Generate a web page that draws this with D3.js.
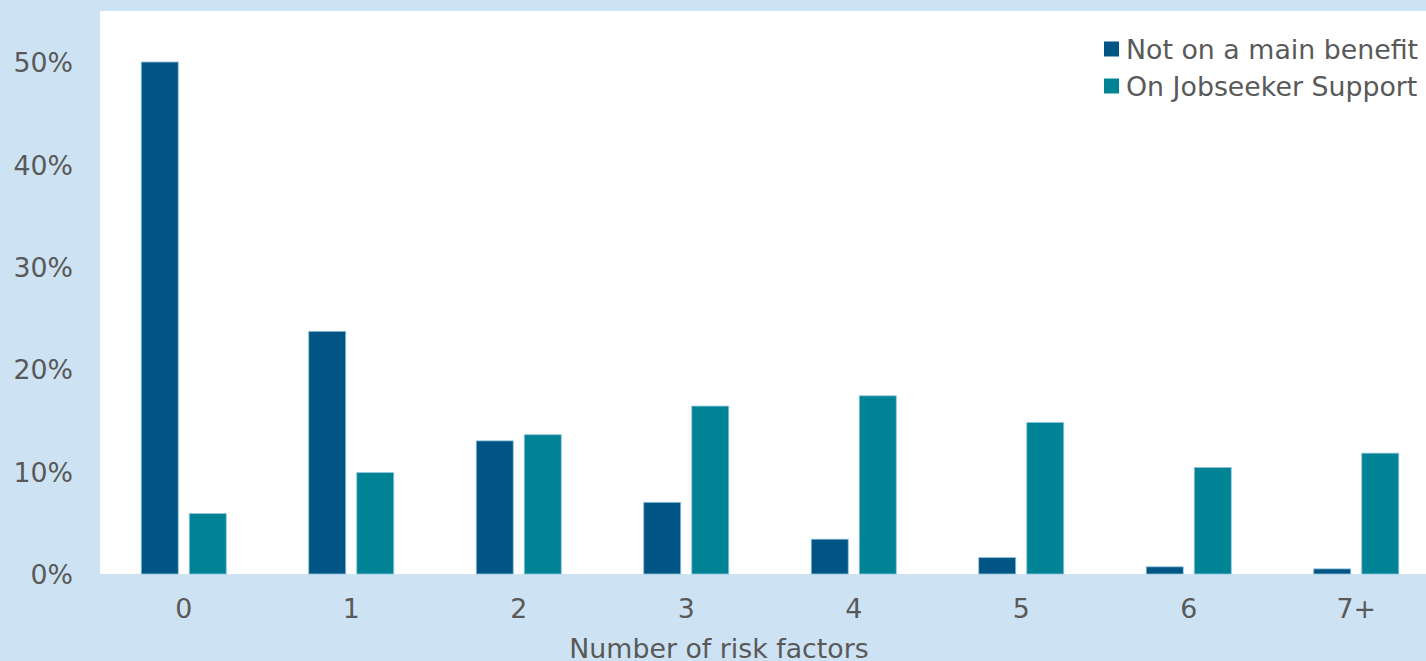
<!DOCTYPE html>
<html><head><meta charset="utf-8">
<script src="https://cdn.jsdelivr.net/npm/d3@7"></script>
<style>html,body{margin:0;padding:0;background:#cde3f3;overflow:hidden}</style>
</head><body>
<svg id="chart" width="1426" height="661"></svg>
<script>
const categories = ["0","1","2","3","4","5","6","7+"];
const seriesNames = ["Not on a main benefit","On Jobseeker Support"];
const notOnBenefit = [50.0, 23.7, 13.0, 7.0, 3.4, 1.6, 0.7, 0.5];
const jobseeker = [5.9, 9.9, 13.6, 16.4, 17.4, 14.8, 10.4, 11.8];
const yTicks = [0, 10, 20, 30, 40, 50];
const colors = ["#005584", "#008394"];

(function(){
const svg = d3.select("#chart");
const W = 1426, H = 661;
const pLeft = 100, pTop = 11, pBottom = 574, rightExt = 1440;
const font = "Verdana, 'DejaVu Sans', sans-serif";
const fs = 26.8;
const textColor = "#595959";

svg.append("rect").attr("width", W).attr("height", H).attr("fill", "#cde3f3");
svg.append("rect").attr("x", pLeft).attr("y", pTop).attr("width", W - pLeft).attr("height", pBottom - pTop).attr("fill", "#ffffff");

const x = d3.scaleBand().domain(categories).range([pLeft, rightExt]).paddingInner(0).paddingOuter(0);
const x1 = d3.scaleBand().domain(seriesNames).range([0, 85]).paddingInner(0.23);
const y = d3.scaleLinear().domain([0, 50]).range([pBottom, 62]);

const data = categories.map((c, i) => ({cat: c, vals: [notOnBenefit[i], jobseeker[i]]}));

const groups = svg.append("g").selectAll("g").data(data).join("g")
  .attr("transform", d => `translate(${x(d.cat) + x.bandwidth()/2 - 42.5},0)`);
groups.selectAll("rect").data(d => d.vals.map((v, j) => ({v, j})))
  .join("rect")
  .attr("x", d => x1(seriesNames[d.j]))
  .attr("width", x1.bandwidth())
  .attr("y", d => y(d.v))
  .attr("height", d => pBottom - y(d.v))
  .attr("fill", d => colors[d.j])
  .attr("stroke", "#8fc3dc").attr("stroke-width", 0.8);

const yAxis = d3.axisLeft(y).tickValues(yTicks).tickFormat(d => d + "%").tickSize(0).tickPadding(0);
const yg = svg.append("g").attr("transform", `translate(73,0)`).call(yAxis);
yg.select(".domain").remove();
yg.selectAll("text").attr("font-family", font).attr("font-size", fs).attr("fill", textColor).attr("dy", "0.36em");

const xAxis = d3.axisBottom(x).tickSize(0).tickPadding(0);
const xg = svg.append("g").attr("transform", `translate(0,${pBottom})`).call(xAxis);
xg.select(".domain").remove();
xg.selectAll("text").attr("font-family", font).attr("font-size", fs).attr("fill", textColor)
  .attr("y", 44).attr("dy", "0");

svg.append("text").attr("x", 719).attr("y", 658).attr("text-anchor", "middle")
  .attr("font-family", font).attr("font-size", fs).attr("fill", textColor)
  .text("Number of risk factors");

const lg = svg.append("g");
seriesNames.forEach((n, i) => {
  const yy = 49 + i * 37;
  lg.append("rect").attr("x", 1104).attr("y", yy - 7.5).attr("width", 15).attr("height", 15).attr("fill", colors[i]);
  lg.append("text").attr("x", 1126).attr("y", yy).attr("dy", "0.36em")
    .attr("font-family", font).attr("font-size", fs).attr("fill", textColor).text(n);
});
})();
</script>
</body></html>
